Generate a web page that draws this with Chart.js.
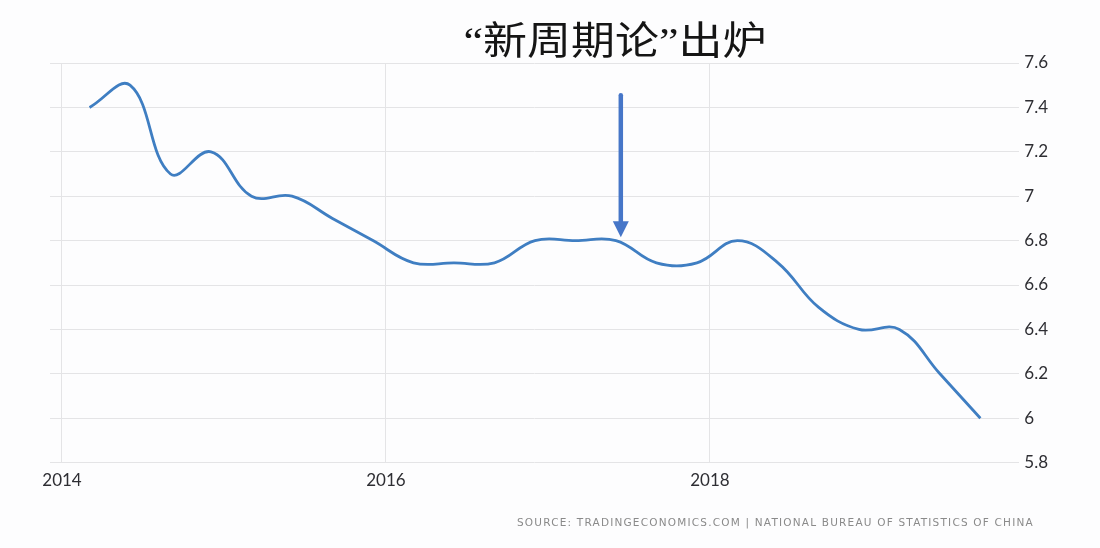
<!DOCTYPE html>
<html>
<head>
<meta charset="utf-8">
<script src="https://cdn.jsdelivr.net/npm/chart.js@4.4.1/dist/chart.umd.min.js"></script>
<style>
  html, body { margin: 0; padding: 0; background: #fdfdfe; }
  #wrap { width: 1100px; height: 548px; position: relative; }
</style>
</head>
<body>
<div id="wrap"><canvas id="c" width="1100" height="548"></canvas></div>
<script>
// Quarterly China GDP growth (YoY %), 2014 Q1 – 2019 Q3
const quarters = ['2014Q1','2014Q2','2014Q3','2014Q4','2015Q1','2015Q2','2015Q3','2015Q4',
                  '2016Q1','2016Q2','2016Q3','2016Q4','2017Q1','2017Q2','2017Q3','2017Q4',
                  '2018Q1','2018Q2','2018Q3','2018Q4','2019Q1','2019Q2','2019Q3'];
const datePos = [2014.17, 2014.42, 2014.67, 2014.92, 2015.17, 2015.42, 2015.67, 2015.92,
                 2016.17, 2016.42, 2016.67, 2016.92, 2017.17, 2017.42, 2017.67, 2017.92,
                 2018.17, 2018.42, 2018.67, 2018.92, 2019.17, 2019.42, 2019.67];
const gdpGrowth = [7.4, 7.5, 7.1, 7.2, 7.0, 7.0, 6.9, 6.8,
                   6.7, 6.7, 6.7, 6.8, 6.8, 6.8, 6.7, 6.7,
                   6.8, 6.7, 6.5, 6.4, 6.4, 6.2, 6.0];
const xTickYears = [2014, 2016, 2018];
const yTicks = [5.8, 6.0, 6.2, 6.4, 6.6, 6.8, 7.0, 7.2, 7.4, 7.6];
const titleText = '“新周期论”出炉';
const sourceText = 'SOURCE: TRADINGECONOMICS.COM | NATIONAL BUREAU OF STATISTICS OF CHINA';
// annotation arrow: points down at 2017 Q2
const arrowX = 2017.45;
const arrowFrom = 7.455;
const arrowTo = 6.815;

const points = datePos.map((x, i) => ({ x: x, y: gdpGrowth[i] }));

const overlay = {
  id: 'overlay',
  afterDraw(chart) {
    const ctx = chart.ctx;
    const xs = chart.scales.x, ys = chart.scales.y;
    // arrow
    const ax = xs.getPixelForValue(arrowX);
    const ay0 = ys.getPixelForValue(arrowFrom);
    const ay1 = ys.getPixelForValue(arrowTo);
    ctx.save();
    ctx.strokeStyle = '#4676c8';
    ctx.fillStyle = '#4676c8';
    ctx.lineWidth = 4.5;
    ctx.lineCap = 'round';
    ctx.beginPath();
    ctx.moveTo(ax, ay0);
    ctx.lineTo(ax, ay1 - 12);
    ctx.stroke();
    ctx.beginPath();
    ctx.moveTo(ax - 8, ay1 - 16);
    ctx.lineTo(ax + 8, ay1 - 16);
    ctx.lineTo(ax, ay1);
    ctx.closePath();
    ctx.fill();
    ctx.restore();

    // title
    ctx.save();
    ctx.font = '44px "Liberation Serif", "Noto Sans CJK SC", sans-serif';
    ctx.fillStyle = '#151515';
    ctx.textAlign = 'center';
    ctx.textBaseline = 'middle';
    ctx.translate(615, 44);
    ctx.scale(1, 0.87);
    ctx.fillText(titleText, 0, 0);
    ctx.restore();

    // source
    ctx.save();
    ctx.font = '10.5px "DejaVu Sans", sans-serif';
    ctx.fillStyle = '#8a8a8a';
    const w0 = ctx.measureText(sourceText).width;
    const target = 516;
    const sp = Math.max(0, (target - w0) / (sourceText.length - 1));
    ctx.letterSpacing = sp.toFixed(2) + 'px';
    ctx.textAlign = 'left';
    ctx.textBaseline = 'middle';
    ctx.fillText(sourceText, 517, 523);
    ctx.restore();
  }
};

new Chart(document.getElementById('c'), {
  type: 'line',
  data: {
    datasets: [{
      label: 'GDP growth',
      data: points,
      borderColor: '#3f7ec2',
      borderWidth: 2.8,
      pointRadius: 0,
      tension: 0.4,
      fill: false
    }]
  },
  options: {
    responsive: false,
    animation: false,
    events: [],
    layout: { padding: { left: 50, top: 63, right: 47, bottom: 49 } },
    plugins: { legend: { display: false }, tooltip: { enabled: false }, title: { display: false } },
    scales: {
      x: {
        type: 'linear',
        position: 'bottom',
        min: 2013.926,
        max: 2019.91,
        afterBuildTicks: (axis) => { axis.ticks = xTickYears.map(v => ({ value: v })); },
        grid: { color: '#e4e4e6', lineWidth: 1, drawTicks: false },
        border: { display: false },
        ticks: {
          padding: 8,
          autoSkip: false,
          maxRotation: 0,
          color: '#2e2e33',
          font: { family: 'Lato, "DejaVu Sans", sans-serif', size: 17 },
          callback: (v) => String(v)
        }
      },
      y: {
        type: 'linear',
        position: 'right',
        min: 5.8,
        max: 7.6,
        afterBuildTicks: (axis) => { axis.ticks = yTicks.map(v => ({ value: v })); },
        grid: { color: '#e4e4e6', lineWidth: 1, drawTicks: false },
        border: { display: false },
        ticks: {
          padding: 5,
          color: '#2e2e33',
          font: { family: 'Lato, "DejaVu Sans", sans-serif', size: 17 },
          callback: (v) => String(Number(Number(v).toFixed(1)))
        }
      }
    }
  },
  plugins: [overlay]
});
</script>
</body>
</html>
